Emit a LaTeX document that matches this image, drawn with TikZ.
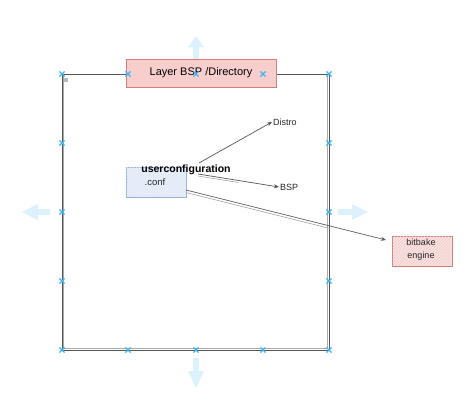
\documentclass[tikz,border=0pt]{standalone}
\usepackage{fontspec}
\setmainfont{Liberation Sans}
\usetikzlibrary{arrows.meta,patterns,calc}
\definecolor{frame}{HTML}{555555}
\definecolor{markblue}{HTML}{3DB4F2}
\definecolor{ghost}{HTML}{DDF1FC}
\definecolor{redfill}{HTML}{F8CECC}
\definecolor{redline}{HTML}{D0807A}
\definecolor{bluefill}{HTML}{E9F0FC}
\definecolor{blueline}{HTML}{9AB3DE}
\tikzset{
  xmark/.style={draw=markblue, line width=1.1pt},
  ghostarrow/.style={fill=ghost, draw=none},
  conn/.style={draw=frame, line width=0.7pt, -{Stealth[length=5pt,width=4pt]}},
  lbl/.style={font=\fontsize{9}{11}\selectfont, text=black!85, inner sep=1pt},
}
\begin{document}
\begin{tikzpicture}[x=1pt,y=-1pt]
\useasboundingbox (0,0) rectangle (467,418);
% ghost arrows
\fill[ghostarrow] (193,60) -- (193,47) -- (188,47) -- (196,36) -- (204,47) -- (199,47) -- (199,60) -- cycle;
\fill[ghostarrow] (193,358) -- (193,371) -- (188,371) -- (196,388) -- (204,371) -- (199,371) -- (199,358) -- cycle;
\fill[ghostarrow] (50,209) -- (38,209) -- (38,204) -- (22,212) -- (38,220) -- (38,215) -- (50,215) -- cycle;
\fill[ghostarrow] (338,209) -- (352,209) -- (352,204) -- (368,212) -- (352,220) -- (352,215) -- (338,215) -- cycle;
% frame
\draw[frame, line width=0.8pt] (62,74) rectangle (329,350);
\draw[frame!50, line width=0.5pt] (63.5,75) -- (63.5,349);
\draw[frame!50, line width=0.5pt] (327.5,75) -- (327.5,349);
\draw[frame!50, line width=0.5pt] (63,348.5) -- (328,348.5);
\fill[gray!55] (64,78) rectangle (68,82);
% title box
\node[draw=redline, fill=redfill, line width=0.6pt, minimum width=150pt, minimum height=28pt, inner sep=0pt,
      font=\fontsize{11}{13}\selectfont] (title) at (201,73) {Layer BSP /Directory};
% user conf box
\node[draw=blueline, fill=bluefill, line width=0.6pt, minimum width=60pt, minimum height=30pt, inner sep=0pt] (uc) at (156,182) {};
\fill[pattern=north east lines, pattern color=blueline!35] (126.5,167.5) rectangle (185.5,196.5);
\node[font=\bfseries\fontsize{10.5}{12}\selectfont, inner sep=0pt] (uct) at (186,170) {userconfiguration};
\node[lbl, font=\fontsize{9.5}{11}\selectfont] (ucc) at (155,182) {.conf};
% bitbake box
\node[draw=redline, fill=redfill!60, line width=0.6pt, minimum width=60pt, minimum height=30pt, inner sep=0pt] (bb) at (422,251) {};
\fill[pattern=north east lines, pattern color=redline!40] (392.5,236.5) rectangle (451.5,265.5);
\node[lbl, align=center, font=\fontsize{9}{13}\selectfont] (bbt) at (421,250) {bitbake\\engine};
% targets
\node[lbl, anchor=west] (distro) at (272,122) {Distro};
\node[lbl, anchor=west] (bsp) at (279,187) {BSP};
\coordinate (dstart) at (199,163);
\coordinate (bstart) at (198,174);
\coordinate (cstart) at (186,190);
\coordinate (cend) at (386,240);
\draw[conn] (dstart) -- (distro.west);
\draw[conn] (bstart) -- (bsp.west);
\draw[frame!60, line width=0.5pt] ($(bstart)+(0,2)$) -- ($(bstart)!0.5!(bsp.west)+(0,2)$);
\draw[conn] (cstart) -- (cend);
\draw[frame!60, line width=0.5pt] ($(cstart)+(0,2.5)$) -- ($(cstart)!0.72!(cend)+(0,2.5)$);
% markers
\foreach \mx/\my in {62/74,128/74,196/74,263/74,329/74,
                62/143,62/212,62/281,62/350,
                329/143,329/212,329/281,329/350,
                128/350,196/350,263/350} {
  \draw[xmark] (\mx-2.6,\my-2.6) -- (\mx+2.6,\my+2.6) (\mx-2.6,\my+2.6) -- (\mx+2.6,\my-2.6);
}
\end{tikzpicture}
\end{document}
